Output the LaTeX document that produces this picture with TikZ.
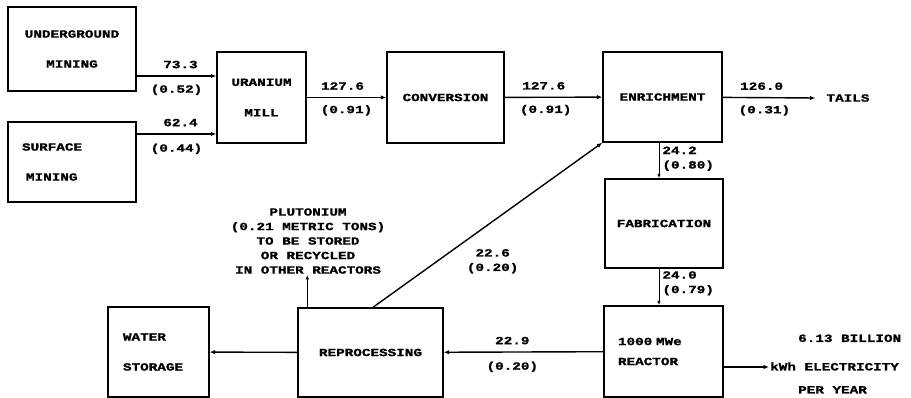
\documentclass[tikz,border=0pt]{standalone}
\usepackage{fontspec}
\usetikzlibrary{arrows.meta,positioning}
\newfontfamily\typefont[FakeStretch=1.3,BoldFeatures={FakeBold=1.3}]{Liberation Mono}
\newcommand{\tfont}{\typefont\bfseries\fontsize{11}{14.5}\selectfont}
\tikzset{
  unit/.style={draw,line width=1.4pt,align=center,inner sep=3pt,font=\tfont},
  lab/.style={align=center,inner sep=1pt,font=\tfont},
  fl/.style={-{Latex[length=5.5pt,width=4.5pt]},line width=1.4pt},
  thin fl/.style={-{Latex[length=4.5pt,width=3.5pt]},line width=0.9pt},
}

\begin{document}
\begin{tikzpicture}[x=1pt,y=-1pt]
    \useasboundingbox (0,0) rectangle (911,398);
    % boxes
    \node[unit,minimum width=128pt,minimum height=84pt] (ug) at (72,49) {UNDERGROUND\\[15.5pt]MINING};
    \node[unit,minimum width=128pt,minimum height=80pt,text width=100pt,align=left] (sf) at (72,162) {SURFACE\\[15.5pt]\hspace{4pt}MINING};
    \node[unit,minimum width=89pt,minimum height=91pt] (mill) at (261.5,97.5) {URANIUM\\[16pt]MILL};
    \node[unit,minimum width=117pt,minimum height=91pt] (conv) at (445.5,97.5) {CONVERSION};
    \node[unit,minimum width=119pt,minimum height=90pt] (enr) at (662.5,97) {ENRICHMENT};
    \node[unit,minimum width=118pt,minimum height=89pt] (fab) at (664,223.5) {FABRICATION};
    \node[unit,minimum width=119pt,minimum height=91pt,text width=91pt,align=left] (reac) at (663.5,351.5) {1000 MWe\\[5.5pt]REACTOR};
    \node[unit,minimum width=145pt,minimum height=89pt] (repro) at (370.5,352.5) {REPROCESSING};
    \node[unit,minimum width=101pt,minimum height=90pt,text width=71pt,align=left] (water) at (158.5,352) {WATER\\[15.5pt]STORAGE};
    % outputs
    \node[lab] (tails) at (848,98) {TAILS};
    \node[lab,align=left,anchor=west] (elec) at (769,364) {\hspace{28pt}6.13 BILLION\\[14pt]kWh ELECTRICITY\\[8.5pt]\hspace{28pt}PER YEAR};
    \node[lab] (plut) at (308,241) {PLUTONIUM\\(0.21 METRIC TONS)\\TO BE STORED\\OR RECYCLED\\IN OTHER REACTORS};
    % flows
    \draw[fl] ([yshift=-27pt]ug.east) -- ([yshift=-27pt]ug.east -| mill.west)
        node[lab,pos=0.55,above=6pt] {73.3} node[lab,pos=0.5,below=7pt] {(0.52)};
    \draw[fl] ([yshift=28pt]sf.east) -- ([yshift=28pt]sf.east -| mill.west)
        node[lab,pos=0.55,above=6pt] {62.4} node[lab,pos=0.5,below=8pt] {(0.44)};
    \draw[fl] (mill) -- (conv)
        node[lab,pos=0.45,above=6pt] {127.6} node[lab,pos=0.5,below=6pt] {(0.91)};
    \draw[fl] (conv) -- (enr)
        node[lab,pos=0.4,above=6pt] {127.6} node[lab,pos=0.42,below=6pt] {(0.91)};
    \draw[fl] (enr) -- ([xshift=-10pt]tails.west)
        node[lab,pos=0.42,above=6pt] {126.0} node[lab,pos=0.45,below=6pt] {(0.31)};
    \draw[thin fl] ([xshift=-3.5pt]enr.south) -- ([xshift=-3.5pt]enr.south |- fab.north)
        node[lab,pos=0.45,right=2pt,align=left] {24.2\\(0.80)};
    \draw[thin fl] ([xshift=-5pt]fab.south) -- ([xshift=-5pt]fab.south |- reac.north)
        node[lab,pos=0.4,right=2pt,align=left] {24.0\\(0.79)};
    \draw[fl] (reac) -- (repro)
        node[lab,pos=0.57,above=6pt] {22.9} node[lab,pos=0.57,below=8pt] {(0.20)};
    \draw[fl] (repro) -- (water);
    \draw[fl] ([yshift=-15.5pt]reac.east) -- ([yshift=-15.5pt]reac.east -| elec.west);
    \draw[thin fl] ([xshift=10pt]repro.north west) -- ([xshift=10pt]repro.north west |- plut.south);
    \draw[fl] ([xshift=2.5pt]repro.north) -- (enr.south west)
        node[lab,pos=0.28,right=28pt] {22.6\\(0.20)};
\end{tikzpicture}
\end{document}
